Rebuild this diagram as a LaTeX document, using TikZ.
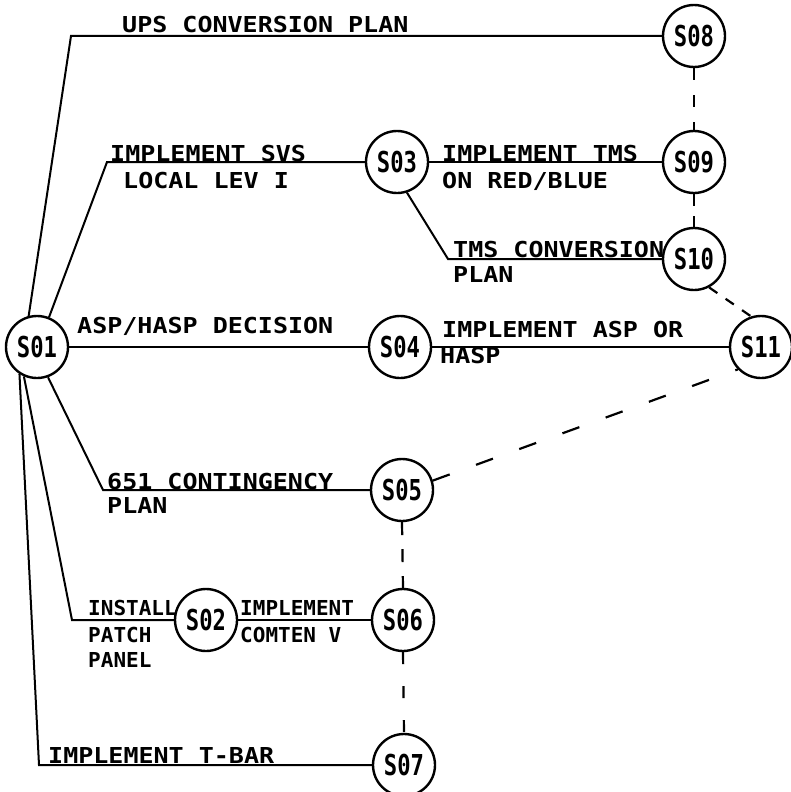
\documentclass[tikz,border=0pt]{standalone}
\usepackage{fontspec}
\newfontfamily\txtfont[FakeStretch=1.14]{DejaVu Sans Mono Bold}
\newfontfamily\cndfont[FakeStretch=1.02]{DejaVu Sans Mono Bold}
\newfontfamily\stnfont[FakeStretch=0.77]{DejaVu Sans Mono Bold}
\begin{document}
\begin{tikzpicture}[x=1pt,y=-1pt,
  stn/.style={circle,draw,line width=2.4pt,minimum size=62pt,inner sep=0pt,font=\stnfont\fontsize{28.8}{30}\selectfont},
  conn/.style={line width=2pt},
  dsh/.style={line width=2.2pt,dash pattern=on 13pt off 13pt},
  lbl/.style={anchor=base west,inner sep=0pt,font=\txtfont\fontsize{21.95}{26}\selectfont},
  clbl/.style={anchor=base west,inner sep=0pt,font=\cndfont\fontsize{20.6}{24}\selectfont}]
\useasboundingbox (0,0) rectangle (791,792);
\fill[white] (0,0) rectangle (791,792);
% stations
\node[stn] (S01) at (37,347) {S01};
\node[stn] (S08) at (694,36) {S08};
\node[stn] (S03) at (397,162) {S03};
\node[stn] (S09) at (694,162) {S09};
\node[stn] (S10) at (694,259) {S10};
\node[stn] (S04) at (400,347) {S04};
\node[stn] (S11) at (761,347) {S11};
\node[stn] (S05) at (402,490) {S05};
\node[stn] (S02) at (206,620) {S02};
\node[stn] (S06) at (403,620) {S06};
\node[stn] (S07) at (404,765) {S07};
% corners
\coordinate (c1) at (71,36);
\coordinate (c2) at (107,162);
\coordinate (c3) at (103,490);
\coordinate (c4) at (72,620);
\coordinate (c5) at (39,765);
\coordinate (c6) at (448,259);
% solid connectors
\draw[conn] (S01.105) -- (c1) -- (S08.west);
\draw[conn] (S01.68) -- (c2) -- (S03.west);
\draw[conn] (S01.east) -- (S04.west);
\draw[conn] (S01.-70) -- (c3) -- (S05.west);
\draw[conn] (S01.-114) -- (c4) -- (S02.west);
\draw[conn] (S01.-123) -- (c5) -- (S07.west);
\draw[conn] (S03.east) -- (S09.west);
\draw[conn] (S03.-72) -- (c6) -- (S10.west);
\draw[conn] (S04.east) -- (S11.west);
\draw[conn] (S02.east) -- (S06.west);
% dashed connectors
\draw[dsh,dash pattern=on 12pt off 15pt] (S08.south) -- (S09.north);
\draw[dsh,dash pattern=on 12pt off 10pt] (S09.south) -- (S10.north);
\draw[dsh,dash pattern=on 10pt off 10pt] (S10.-62) -- (S11.108);
\draw[dsh,dash pattern=on 18pt off 28pt] (S05.17) -- (S11.224);
\draw[dsh,dash pattern=on 13pt off 14pt] (S05.south) -- (S06.north);
\draw[dsh,dash pattern=on 12pt off 22pt] (S06.south) -- (S07.north);
% labels
\node[lbl] (t1) at (122,33) {UPS CONVERSION PLAN};
\node[lbl] (t2) at (110,161) {IMPLEMENT SVS};
\node[lbl] (t3) at (123,188) {LOCAL LEV I};
\node[lbl] (t4) at (442,161) {IMPLEMENT TMS};
\node[lbl] (t5) at (442,188) {ON RED/BLUE};
\node[lbl] (t6) at (453,257) {TMS CONVERSION};
\node[lbl] (t7) at (453,282) {PLAN};
\node[lbl] (t8) at (77,333) {ASP/HASP DECISION};
\node[lbl] (t9) at (442,337) {IMPLEMENT ASP OR};
\node[lbl] (t10) at (440,363) {HASP};
\node[lbl] (t11) at (107,489) {651 CONTINGENCY};
\node[lbl] (t12) at (107,513) {PLAN};
\node[clbl] (t13) at (88,615) {INSTALL};
\node[clbl] (t14) at (88,642) {PATCH};
\node[clbl] (t15) at (88,667) {PANEL};
\node[clbl] (t16) at (240,615) {IMPLEMENT};
\node[clbl] (t17) at (240,642) {COMTEN V};
\node[lbl] (t18) at (48,763) {IMPLEMENT T-BAR};
\end{tikzpicture}
\end{document}
